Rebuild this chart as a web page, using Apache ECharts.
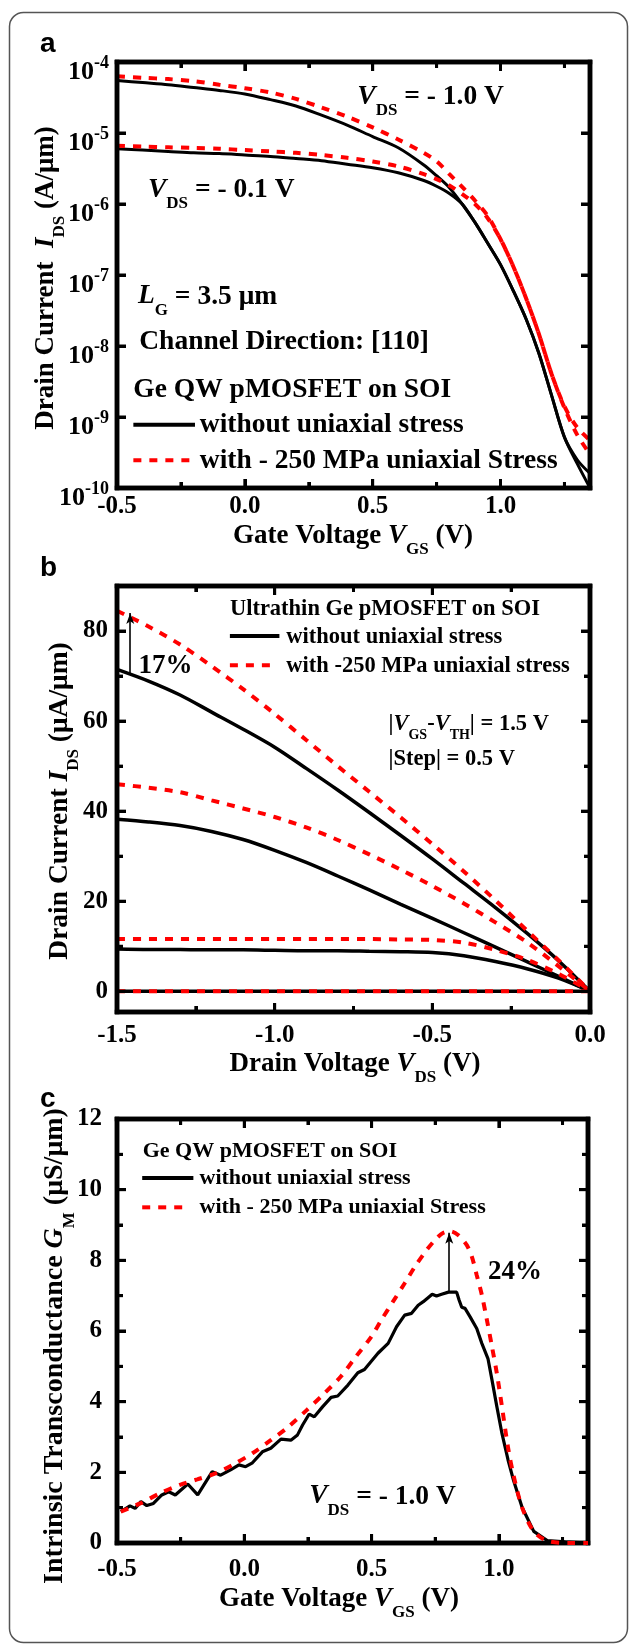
<!DOCTYPE html>
<html>
<head>
<meta charset="utf-8">
<title>Ge QW pMOSFET under uniaxial stress</title>
<script src="https://cdn.jsdelivr.net/npm/echarts@6.0.0/dist/echarts.min.js"></script>
<style>
    html, body { margin: 0; padding: 0; background: #fff; }
    #chart { width: 630px; height: 1644px; }
</style>
</head>
<body>
<div id="chart"></div>
<script>
// ---------- panel a : transfer curves, log scale ----------
var vgsA = [-0.5, -0.4, -0.3, -0.2, -0.1, 0.0, 0.1, 0.2, 0.3, 0.4, 0.5, 0.6, 0.7,
    0.75, 0.8, 0.85, 0.9, 0.95, 1.0, 1.05, 1.1, 1.15, 1.2, 1.25, 1.3, 1.35];
var idsA_plain_10 = [5.5e-5, 5.13e-5, 4.79e-5, 4.37e-5, 3.98e-5, 3.55e-5, 2.95e-5, 2.4e-5, 1.78e-5, 1.29e-5, 8.9e-6, 6.2e-6, 3.55e-6,
    2.5e-6, 1.7e-6, 1.0e-6, 5.5e-7, 2.8e-7, 1.4e-7, 6.0e-8, 2.4e-8, 7.9e-9, 2.0e-9, 5.2e-10, 2.2e-10, 1.0e-10];
var idsA_plain_01 = [6.0e-6, 5.75e-6, 5.5e-6, 5.25e-6, 5.13e-6, 4.9e-6, 4.68e-6, 4.37e-6, 4.07e-6, 3.63e-6, 3.24e-6, 2.75e-6, 2.14e-6,
    1.78e-6, 1.41e-6, 1.0e-6, 5.5e-7, 2.8e-7, 1.4e-7, 6.0e-8, 2.4e-8, 7.9e-9, 2.0e-9, 5.2e-10, 2.5e-10, 1.6e-10];
var idsA_stress_10 = [6.3e-5, 6.0e-5, 5.75e-5, 5.37e-5, 4.79e-5, 4.27e-5, 3.72e-5, 3.02e-5, 2.29e-5, 1.7e-5, 1.2e-5, 8.1e-6, 5.25e-6,
    4.0e-6, 2.63e-6, 1.74e-6, 1.12e-6, 6.8e-7, 3.2e-7, 1.32e-7, 4.7e-8, 1.48e-8, 4.0e-9, 1.35e-9, 5.6e-10, 3.0e-10];
var idsA_stress_01 = [6.6e-6, 6.45e-6, 6.3e-6, 6.15e-6, 6.0e-6, 5.75e-6, 5.5e-6, 5.25e-6, 4.9e-6, 4.47e-6, 3.98e-6, 3.39e-6, 2.63e-6,
    2.24e-6, 1.82e-6, 1.38e-6, 1.0e-6, 6.3e-7, 3.2e-7, 1.32e-7, 4.7e-8, 1.48e-8, 4.0e-9, 1.41e-9, 7.1e-10, 4.7e-10];

// ---------- panel b : output curves ----------
var vdsB = [-1.5, -1.4, -1.3, -1.2, -1.1, -1.0, -0.9, -0.8, -0.7, -0.6, -0.5, -0.4, -0.3, -0.2, -0.1, 0.0];
var idsB_plain_hi = [71.5, 68.9, 65.8, 62.0, 58.2, 54.2, 49.5, 44.7, 39.7, 34.6, 29.4, 24.0, 18.6, 12.9, 6.8, 0];
var idsB_plain_mid = [38.2, 37.6, 36.8, 35.5, 33.7, 31.3, 28.6, 25.6, 22.5, 19.3, 16.2, 13.0, 9.8, 6.6, 3.3, 0];
var idsB_plain_lo = [9.4, 9.3, 9.3, 9.2, 9.2, 9.1, 9.0, 9.0, 8.9, 8.8, 8.6, 7.9, 6.6, 5.0, 2.9, 0];
var idsB_plain_off = [0, 0, 0, 0, 0, 0, 0, 0, 0, 0, 0, 0, 0, 0, 0, 0];
var idsB_stress_hi = [84.5, 81.0, 77.0, 72.2, 67.1, 61.6, 55.8, 50.0, 44.3, 38.6, 32.7, 26.6, 20.2, 13.5, 6.9, 0];
var idsB_stress_mid = [46.0, 45.2, 44.2, 42.4, 40.6, 38.7, 36.4, 33.6, 30.4, 27.0, 23.4, 19.5, 15.3, 10.9, 5.6, 0];
var idsB_stress_lo = [11.6, 11.6, 11.6, 11.6, 11.6, 11.6, 11.6, 11.6, 11.6, 11.5, 11.4, 10.8, 9.2, 7.0, 3.9, 0];
var idsB_stress_off = [0, 0, 0, 0, 0, 0, 0, 0, 0, 0, 0, 0, 0, 0, 0, 0];

// ---------- panel c : transconductance ----------
var vgsC_plain = [-0.485, -0.449, -0.429, -0.406, -0.383, -0.357, -0.324, -0.297, -0.271, -0.222, -0.183, -0.126, -0.093, -0.054,
    -0.021, 0.005, 0.032, 0.071, 0.104, 0.144, 0.183, 0.209, 0.229, 0.255, 0.275, 0.308, 0.341, 0.367, 0.407, 0.446, 0.472,
    0.525, 0.565, 0.598, 0.630, 0.657, 0.683, 0.703, 0.723, 0.738, 0.755, 0.775, 0.802, 0.834, 0.844, 0.854, 0.867, 0.887,
    0.913, 0.933, 0.957, 0.973, 0.992, 1.012, 1.036, 1.058, 1.091, 1.137, 1.19, 1.261, 1.354];
var gmC_plain = [0.89, 1.05, 0.98, 1.17, 1.06, 1.12, 1.36, 1.45, 1.36, 1.67, 1.36, 2.02, 1.92, 2.07,
    2.21, 2.16, 2.27, 2.58, 2.68, 2.94, 2.91, 3.06, 3.34, 3.65, 3.57, 3.86, 4.12, 4.16, 4.47, 4.82, 4.91,
    5.37, 5.65, 6.12, 6.45, 6.50, 6.73, 6.83, 6.95, 7.04, 6.99, 7.04, 7.10, 7.10, 6.87, 6.67, 6.64, 6.40,
    6.07, 5.65, 5.22, 4.61, 3.86, 3.10, 2.35, 1.76, 1.01, 0.33, 0.07, 0.03, 0];
var vgsC_stress = [-0.485, -0.409, -0.33, -0.25, -0.185, -0.113, -0.041, 0.032, 0.104, 0.17, 0.242, 0.314, 0.38, 0.44, 0.5,
    0.538, 0.584, 0.63, 0.67, 0.716, 0.755, 0.782, 0.81, 0.841, 0.874, 0.894, 0.913, 0.933, 0.953, 0.973, 0.992,
    1.012, 1.036, 1.058, 1.091, 1.137, 1.196, 1.29, 1.35];
var gmC_stress = [0.89, 1.12, 1.41, 1.65, 1.80, 1.97, 2.23, 2.54, 2.91, 3.27, 3.74, 4.23, 4.72, 5.29, 5.85,
    6.31, 6.83, 7.35, 7.82, 8.29, 8.62, 8.78, 8.82, 8.71, 8.43, 8.10, 7.58, 7.02, 6.31, 5.55, 4.80,
    3.86, 2.70, 1.90, 1.01, 0.33, 0.05, 0, 0];

// tick positions
var ticksVgs = [-0.5, 0.0, 0.5, 1.0];
var minorVgs = [-0.25, 0.25, 0.75, 1.25];
var ticksLog = [1e-10, 1e-9, 1e-8, 1e-7, 1e-6, 1e-5, 1e-4];
var ticksVds = [-1.5, -1.0, -0.5, 0.0];
var minorVds = [-1.25, -0.75, -0.25];
var ticksIdsB = [0, 20, 40, 60, 80];
var minorIdsB = [10, 30, 50, 70];
var ticksGm = [0, 2, 4, 6, 8, 10, 12];
var minorGm = [1, 3, 5, 7, 9, 11];

var FONT = 'Liberation Serif';
var RED = '#ff0000';

function richSet(size, sub) {
    sub = sub || 14;
    return {
        n: {fontFamily: FONT, fontWeight: 'bold', fontSize: size, lineHeight: size, verticalAlign: 'top', color: '#000'},
        i: {fontFamily: FONT, fontWeight: 'bold', fontStyle: 'italic', fontSize: size, lineHeight: size, verticalAlign: 'top', color: '#000'},
        s: {fontFamily: FONT, fontWeight: 'bold', fontSize: sub, verticalAlign: 'top', color: '#000',
            padding: [Math.round(size * 0.8 - sub * 0.15), 0, 0, 0]}
    };
}

function pairs(xs, ys) {
    return xs.map(function (x, i) { return [x, ys[i]]; });
}

function fixed1(v) { return v.toFixed(1); }

var labelFont = {show: true, color: '#000', fontFamily: FONT, fontWeight: 'bold', fontSize: 25};

function xAx(g, min, max, ticks, margin) {
    return {
        gridIndex: g, type: 'value', min: min, max: max, position: 'bottom',
        splitLine: {show: false}, axisLine: {show: false, onZero: false}, axisTick: {show: false},
        axisLabel: Object.assign({}, labelFont, {margin: margin, formatter: fixed1, customValues: ticks})
    };
}

function yAx(g, min, max, ticks, margin) {
    return {
        gridIndex: g, type: 'value', min: min, max: max, position: 'left',
        splitLine: {show: false}, axisLine: {show: false, onZero: false}, axisTick: {show: false},
        axisLabel: Object.assign({}, labelFont, {margin: margin, customValues: ticks})
    };
}

var logAxis = {
    gridIndex: 0, type: 'log', logBase: 10, min: 1e-10, max: 1e-4, splitNumber: 6, position: 'left',
    splitLine: {show: false}, axisLine: {show: false, onZero: false}, axisTick: {show: false},
    axisLabel: {
        show: true, margin: 8, padding: [16, 0, 0, 0],
        formatter: function (v) { return '{b|10}{e|' + Math.round(Math.log(v) / Math.LN10) + '}'; },
        rich: {
            b: {fontFamily: FONT, fontWeight: 'bold', fontSize: 26, lineHeight: 31, verticalAlign: 'bottom', color: '#000'},
            e: {fontFamily: FONT, fontWeight: 'bold', fontSize: 18, lineHeight: 18, verticalAlign: 'top', color: '#000'}
        }
    }
};

function solid(g, xs, ys, smooth, extra) {
    return Object.assign({
        type: 'line', xAxisIndex: g, yAxisIndex: g, data: pairs(xs, ys), symbol: 'none',
        smooth: smooth, silent: true, animation: false, z: 3,
        lineStyle: {color: '#000', width: 3}
    }, extra);
}

function dashed(g, xs, ys, smooth, extra) {
    return Object.assign({
        type: 'line', xAxisIndex: g, yAxisIndex: g, data: pairs(xs, ys), symbol: 'none',
        smooth: smooth, silent: true, animation: false, z: 4,
        lineStyle: {color: RED, width: 4, type: [8, 8]}
    }, extra);
}

function arrow(x, y1, y2) {
    return {
        silent: true, animation: false, symbol: ['none', 'arrow'], symbolSize: [6, 11],
        label: {show: false}, lineStyle: {color: '#000', width: 1.6, type: 'solid'},
        data: [[{coord: [x, y1]}, {coord: [x, y2]}]]
    };
}

var thickB = {lineStyle: {color: '#000', width: 3.5}};

var series = [
    solid(0, vgsA, idsA_plain_10, 0.3),
    solid(0, vgsA, idsA_plain_01, 0.3),
    dashed(0, vgsA, idsA_stress_10, 0.3),
    dashed(0, vgsA, idsA_stress_01, 0.3),

    solid(1, vdsB, idsB_plain_hi, 0.3, {lineStyle: {color: '#000', width: 3.5}, markLine: arrow(-1.458, 70.7, 84.0)}),
    solid(1, vdsB, idsB_plain_mid, 0.3, thickB),
    solid(1, vdsB, idsB_plain_lo, 0.3, thickB),
    solid(1, vdsB, idsB_plain_off, false, thickB),
    dashed(1, vdsB, idsB_stress_hi, 0.3),
    dashed(1, vdsB, idsB_stress_mid, 0.3),
    dashed(1, vdsB, idsB_stress_lo, 0.3),
    dashed(1, vdsB, idsB_stress_off, false),

    solid(2, vgsC_plain, gmC_plain, false, {clip: false, lineStyle: {color: '#000', width: 3.2},
        markLine: arrow(0.805, 7.11, 8.78)}),
    dashed(2, vgsC_stress, gmC_stress, 0.3, {clip: false, z: 22})
];

var option = {
    backgroundColor: '#fff',
    animation: false,
    grid: [
        {left: 117, top: 62, width: 473, height: 426, containLabel: false},
        {left: 117, top: 586, width: 473, height: 426, containLabel: false},
        {left: 117, top: 1119, width: 471, height: 424, containLabel: false}
    ],
    xAxis: [
        xAx(0, -0.5, 1.35, ticksVgs, 6),
        xAx(1, -1.5, 0, ticksVds, 11),
        xAx(2, -0.5, 1.35, ticksVgs, 14)
    ],
    yAxis: [
        logAxis,
        yAx(1, -4.6, 90, ticksIdsB, 9),
        yAx(2, 0, 12, ticksGm, 15)
    ],
    series: series
};

var chart = echarts.init(document.getElementById('chart'), null, {width: 630, height: 1644});
chart.setOption(option);

// plot frames (closed line series) and inward ticks (lines series), sized via the panel scales
var panels = [
    {g: 0, s: 0, x: [-0.5, 1.35], y: [1e-10, 1e-4], xMaj: ticksVgs, xMin: minorVgs, yMaj: ticksLog, yMin: []},
    {g: 1, s: 4, x: [-1.5, 0], y: [-4.6, 90], xMaj: ticksVds, xMin: minorVds, yMaj: ticksIdsB, yMin: minorIdsB},
    {g: 2, s: 12, x: [-0.5, 1.35], y: [0, 12], xMaj: ticksVgs, xMin: minorVgs, yMaj: ticksGm, yMin: minorGm}
];

var graphic = [
    {type: 'rect', shape: {x: 9.5, y: 12.5, width: 618, height: 1630, r: 14},
        style: {fill: 'transparent', stroke: '#555', lineWidth: 1.5}, silent: true, z: -1},
    {type: 'text', x: 40, y: 44, style: {text: 'a', fontFamily: 'Liberation Sans', fontWeight: 'bold', fontSize: 28, fill: '#000', verticalAlign: 'middle'}},
    {type: 'text', x: 40, y: 568, style: {text: 'b', fontFamily: 'Liberation Sans', fontWeight: 'bold', fontSize: 28, fill: '#000', verticalAlign: 'middle'}},
    {type: 'text', x: 40, y: 1099, style: {text: 'c', fontFamily: 'Liberation Sans', fontWeight: 'bold', fontSize: 28, fill: '#000', verticalAlign: 'middle'}}
];

function bar(x, y, w, h) {
    graphic.push({type: 'rect', silent: true, z: 15, shape: {x: x, y: y, width: w, height: h},
        style: {fill: '#000', stroke: null}});
}

var extraSeries = [];
panels.forEach(function (p) {
    var x0 = p.x[0], x1 = p.x[1], y0 = p.y[0], y1 = p.y[1];
    extraSeries.push({
        type: 'line', xAxisIndex: p.g, yAxisIndex: p.g, symbol: 'none', silent: true, animation: false,
        clip: false, z: 20, lineStyle: {color: '#000', width: 4.5, join: 'miter', cap: 'square'},
        data: [[x0, y0], [x1, y0], [x1, y1], [x0, y1], [x0, y0]]
    });
    var lt = chart.convertToPixel({seriesIndex: p.s}, [x0, y1]);
    var rb = chart.convertToPixel({seriesIndex: p.s}, [x1, y0]);
    var w = rb[0] - lt[0], h = rb[1] - lt[1], t = 4.5;
    // frame as filled bars
    bar(lt[0] - t / 2, lt[1] - t / 2, w + t, t);
    bar(lt[0] - t / 2, rb[1] - t / 2, w + t, t);
    bar(lt[0] - t / 2, lt[1] - t / 2, t, h + t);
    bar(rb[0] - t / 2, lt[1] - t / 2, t, h + t);
    function back(px, py) { return chart.convertFromPixel({seriesIndex: p.s}, [px, py]); }
    var segs = [];
    function xt(v, len) {
        segs.push({coords: [[v, y0], [v, back(lt[0], rb[1] - len)[1]]]});
        segs.push({coords: [[v, y1], [v, back(lt[0], lt[1] + len)[1]]]});
        var px = chart.convertToPixel({seriesIndex: p.s}, [v, y0])[0];
        bar(px - 1.5, rb[1] - len, 3, len);
        bar(px - 1.5, lt[1], 3, len);
    }
    function yt(v, len) {
        segs.push({coords: [[x0, v], [back(lt[0] + len, rb[1])[0], v]]});
        segs.push({coords: [[x1, v], [back(rb[0] - len, rb[1])[0], v]]});
        var py = chart.convertToPixel({seriesIndex: p.s}, [x0, v])[1];
        bar(lt[0], py - 1.5, len, 3);
        bar(rb[0] - len, py - 1.5, len, 3);
    }
    p.xMaj.forEach(function (v) { xt(v, 9); });
    p.xMin.forEach(function (v) { xt(v, 6); });
    p.yMaj.forEach(function (v) { yt(v, 9); });
    p.yMin.forEach(function (v) { yt(v, 6); });
    extraSeries.push({
        type: 'lines', coordinateSystem: 'cartesian2d', xAxisIndex: p.g, yAxisIndex: p.g,
        silent: true, animation: false, z: 20, clip: false,
        lineStyle: {color: '#000', width: 3, opacity: 1, curveness: 0},
        data: segs
    });
});

// annotations, placed in data coordinates: [series, x, y, text, size, subSize]
var notes = [
    [0, 0.44, 3.2e-5, '{i|V}{s|DS}{n| = - 1.0 V}', 27.5, 17],
    [0, -0.379, 1.58e-6, '{i|V}{s|DS}{n| = - 0.1 V}', 27.5, 17],
    [0, -0.418, 5.0e-8, '{i|L}{s|G}{n| = 3.5 μm}', 27.5, 17],
    [0, -0.413, 1.15e-8, '{n|Channel Direction: [110]}', 27.5],
    [0, -0.436, 2.4e-9, '{n|Ge QW pMOSFET on SOI}', 27.5],
    [0, -0.176, 7.8e-10, '{n|without uniaxial stress}', 27.5],
    [0, -0.176, 2.45e-10, '{n|with - 250 MPa uniaxial Stress}', 27.5],

    [4, -1.142, 84.8, '{n|Ultrathin Ge pMOSFET on SOI}', 22.5],
    [4, -0.963, 78.7, '{n|without uniaxial stress}', 22.5],
    [4, -0.963, 72.2, '{n|with -250 MPa uniaxial stress}', 22.5],
    [4, -0.639, 59.4, '{n||}{i|V}{s|GS}{n|-}{i|V}{s|TH}{n|| = 1.5 V}', 22.5, 14],
    [4, -0.639, 51.7, '{n||Step| = 0.5 V}', 22.5],
    [4, -1.432, 72.2, '{n|17%}', 27],

    [12, -0.399, 11.09, '{n|Ge QW pMOSFET on SOI}', 22],
    [12, -0.176, 10.33, '{n|without uniaxial stress}', 22],
    [12, -0.176, 9.5, '{n|with - 250 MPa uniaxial Stress}', 22],
    [12, 0.957, 7.67, '{n|24%}', 27],
    [12, 0.255, 1.32, '{i|V}{s|DS}{n| = - 1.0 V}', 27.5, 17]
];

// legend samples: [series, x1, x2, y, dashed]
var keys = [
    [0, -0.436, -0.195, 7.8e-10, false],
    [0, -0.436, -0.195, 2.45e-10, true],
    [4, -1.142, -0.985, 78.9, false],
    [4, -1.142, -1.004, 72.4, true],
    [12, -0.401, -0.2, 10.33, false],
    [12, -0.401, -0.228, 9.5, true]
];

// axis titles: [centre x, centre y, text, size, vertical]
var titles = [
    [353, 536, '{n|Gate Voltage }{i|V}{s|GS}{n| (V)}', 27, false],
    [46, 278, '{n|Drain Current  }{i|I}{s|DS}{n| (A/μm)}', 27, true],
    [355, 1064, '{n|Drain Voltage }{i|V}{s|DS}{n| (V)}', 27, false],
    [60, 801, '{n|Drain Current }{i|I}{s|DS}{n| (μA/μm)}', 27.5, true],
    [339, 1599, '{n|Gate Voltage }{i|V}{s|GS}{n| (V)}', 27, false],
    [55, 1346, '{n|Intrinsic Transconductance }{i|G}{s|M}{n| (μS/μm)}', 28, true]
];

titles.forEach(function (t) {
    var size = t[3];
    graphic.push(t[4] ? {
        type: 'text', x: t[0] - size / 2, y: t[1], rotation: Math.PI / 2, silent: true,
        style: {text: t[2], rich: richSet(size, 17), align: 'center', verticalAlign: 'top'}
    } : {
        type: 'text', x: t[0], y: t[1] - size / 2, silent: true,
        style: {text: t[2], rich: richSet(size, 17), align: 'center', verticalAlign: 'top'}
    });
});

notes.forEach(function (t) {
    var p = chart.convertToPixel({seriesIndex: t[0]}, [t[1], t[2]]);
    graphic.push({
        type: 'text', x: p[0], y: p[1] - t[4] / 2, silent: true, z: 11,
        style: {text: t[3], rich: richSet(t[4], t[5]), align: 'left', verticalAlign: 'top'}
    });
});

keys.forEach(function (k) {
    var a = chart.convertToPixel({seriesIndex: k[0]}, [k[1], k[3]]);
    var b = chart.convertToPixel({seriesIndex: k[0]}, [k[2], k[3]]);
    graphic.push({
        type: 'line', silent: true, z: 11,
        shape: {x1: a[0], y1: a[1], x2: b[0], y2: b[1]},
        style: k[4] ? {stroke: RED, lineWidth: 4, lineDash: [8, 8]} : {stroke: '#000', lineWidth: 4}
    });
});

chart.setOption({series: series.concat(extraSeries), graphic: graphic});
</script>
</body>
</html>
